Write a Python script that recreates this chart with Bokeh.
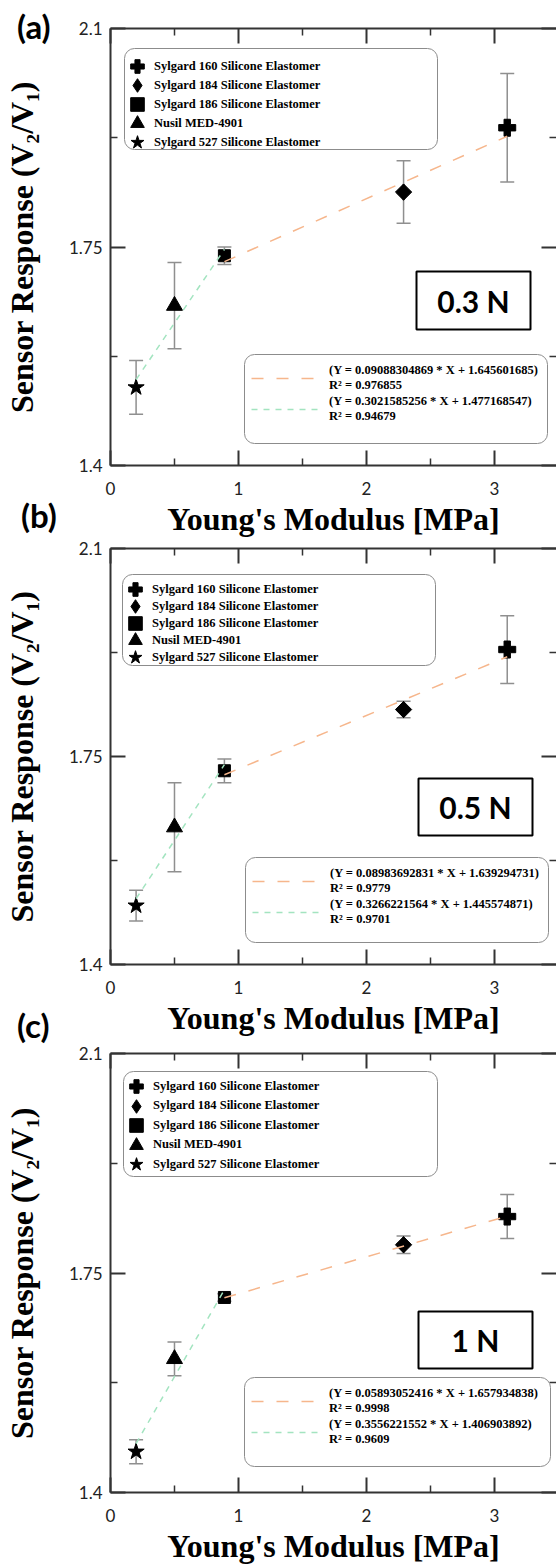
from math import pi
from bokeh.plotting import figure
from bokeh.models import (ColumnDataSource, Whisker, TeeHead, Legend, LegendItem, LinearAxis,
                          FixedTicker, BoxAnnotation, Label, Range1d, NumeralTickFormatter,
                          CustomJSTickFormatter, Div)
from bokeh.layouts import column
from bokeh.embed import file_html
from bokeh.resources import INLINE

# ---------------- data ----------------
materials = ["Sylgard 160 Silicone Elastomer", "Sylgard 184 Silicone Elastomer",
             "Sylgard 186 Silicone Elastomer", "Nusil MED-4901",
             "Sylgard 527 Silicone Elastomer"]
modulus = [3.1, 2.29, 0.89, 0.5, 0.2]          # MPa

resp_03 = [1.941, 1.838, 1.736, 1.656, 1.525]
err_03 = [0.087, 0.050, 0.014, 0.069, 0.043]
resp_05 = [1.930, 1.829, 1.726, 1.631, 1.499]
err_05 = [0.057, 0.014, 0.020, 0.075, 0.026]
resp_1 = [1.840, 1.795, 1.711, 1.613, 1.465]
err_1 = [0.035, 0.014, 0.006, 0.027, 0.019]

fit_hi_03 = [0.09088304869, 1.645601685, "0.976855"]
fit_lo_03 = [0.3021585256, 1.477168547, "0.94679"]
fit_hi_05 = [0.08983692831, 1.639294731, "0.9779"]
fit_lo_05 = [0.3266221564, 1.445574871, "0.9701"]
fit_hi_1 = [0.05893052416, 1.657934838, "0.9998"]
fit_lo_1 = [0.3556221552, 1.406903892, "0.9609"]

forces = ["0.3 N", "0.5 N", "1 N"]
panel_tags = ["(a)", "(b)", "(c)"]
x_ticks = [0, 1, 2, 3]
x_minor = [0.5, 1.5, 2.5]
y_ticks = [1.4, 1.75, 2.1]
y_minor = [1.575, 1.925]

panels_resp = [resp_03, resp_05, resp_1]
panels_err = [err_03, err_05, err_1]
panels_hi = [fit_hi_03, fit_hi_05, fit_hi_1]
panels_lo = [fit_lo_03, fit_lo_05, fit_lo_1]

# ---------------- style / layout ----------------
SERIF = "Liberation Serif"
SANS = "Lato"
AX = "#333333"
ORANGE = "#f6b68c"
GREEN = "#a3e4c0"
BOXLINE = "#8c8c8c"
markers = ["plus", "diamond", "square", "triangle", "star"]
m_size = [17, 16, 12, 16, 17]

# screen boxes: (left, right, bottom, top) relative to frame bottom-left
layouts = [
    dict(h=539, top=28, bottom=73, left=110,
         leg=(14, 327, 316, 417), leg_first=18, leg_pitch=19,
         fit=(134, 437, 22, 111),
         nbox=(306, 420, 136, 194)),
    dict(h=502, top=9, bottom=77, left=107,
         leg=(12, 325, 299, 390), leg_first=15, leg_pitch=17,
         fit=(135, 438, 22, 107),
         nbox=(308, 422, 129, 186)),
    dict(h=525, top=12, bottom=73, left=107,
         leg=(13, 327, 316, 421), leg_first=15, leg_pitch=19.5,
         fit=(134, 440, 26, 115),
         nbox=(308, 422, 124, 181)),
]
# page positions of the panel tags (left, top)
tag_pos = [(17, 6), (21, 495), (17, 1005)]


def screen_box(l, r, b, t, **kw):
    return BoxAnnotation(left=l, right=r, bottom=b, top=t,
                         left_units="screen", right_units="screen",
                         bottom_units="screen", top_units="screen", **kw)


def make_panel(i):
    L = layouts[i]
    resp, err, hi, lo = panels_resp[i], panels_err[i], panels_hi[i], panels_lo[i]
    p = figure(width=556, height=L["h"], x_range=Range1d(0, 3.485), y_range=Range1d(1.4, 2.1),
               output_backend="svg", toolbar_location=None,
               min_border_left=L["left"], min_border_right=0,
               min_border_top=L["top"], min_border_bottom=L["bottom"],
               x_axis_label="Young's Modulus [MPa]",
               y_axis_label="Sensor Response (V\u2082/V\u2081)")
    p.outline_line_color = None
    p.grid.visible = False

    top_ax = LinearAxis()
    right_ax = LinearAxis()
    p.add_layout(top_ax, "above")
    p.add_layout(right_ax, "right")

    for ax in [p.below[0], top_ax]:
        ax.ticker = FixedTicker(ticks=x_ticks, minor_ticks=x_minor)
    for ax in [p.left[0], right_ax]:
        ax.ticker = FixedTicker(ticks=y_ticks, minor_ticks=y_minor)
    p.below[0].formatter = NumeralTickFormatter(format="0")
    p.left[0].formatter = NumeralTickFormatter(format="0.[00]")

    for ax in [p.below[0], p.left[0], top_ax, right_ax]:
        ax.axis_line_color = AX
        ax.axis_line_width = 2
        ax.major_tick_line_color = AX
        ax.major_tick_line_width = 2
        ax.minor_tick_line_color = AX
        ax.minor_tick_line_width = 1.5
        ax.major_tick_in = 15
        ax.major_tick_out = 0
        ax.minor_tick_in = 7
        ax.minor_tick_out = 0
        ax.major_label_text_font = SANS
        ax.major_label_text_font_size = "17px"
        ax.major_label_text_color = "#222222"
    for ax in [top_ax, right_ax]:
        ax.formatter = CustomJSTickFormatter(code="return ''")
        ax.major_label_text_font_size = "1px"
        ax.major_label_standoff = 0
    right_ax.axis_line_color = None

    p.below[0].major_label_standoff = 16
    p.left[0].major_label_standoff = 8
    for ax in [p.below[0], p.left[0]]:
        ax.axis_label_text_font = SERIF
        ax.axis_label_text_font_style = "bold"
        ax.axis_label_text_font_size = "32px"
        ax.axis_label_text_color = "black"
    p.below[0].axis_label_standoff = 3
    p.left[0].axis_label_standoff = 26

    # error bars
    src = ColumnDataSource(dict(x=modulus,
                                u=[v + e for v, e in zip(resp, err)],
                                l=[v - e for v, e in zip(resp, err)]))
    wh = Whisker(source=src, base="x", upper="u", lower="l", line_color="#8f8f8f", line_width=1.5,
                 upper_head=TeeHead(size=14, line_color="#8f8f8f", line_width=1.5),
                 lower_head=TeeHead(size=14, line_color="#8f8f8f", line_width=1.5),
                 level="underlay")
    p.add_layout(wh)

    # markers
    scat = []
    for k in range(5):
        r = p.scatter(x=[modulus[k]], y=[resp[k]], marker=markers[k], size=m_size[k],
                      fill_color="black", line_color="black")
        scat.append(r)
    # the diamond of Sylgard 184 is drawn as a square turned 45 degrees on top
    p.scatter(x=[modulus[1]], y=[resp[1]], marker="square", angle=pi / 4, size=11.5,
              fill_color="black", line_color="black")

    # fit lines
    xs_hi = [modulus[2], modulus[0]]
    xs_lo = [modulus[4], modulus[2]]
    r_hi = p.line(xs_hi, [hi[0] * x + hi[1] for x in xs_hi], line_color=ORANGE,
                  line_width=1.5, line_dash="12 13")
    r_lo = p.line(xs_lo, [lo[0] * x + lo[1] for x in xs_lo], line_color=GREEN,
                  line_width=1.5, line_dash="6 6")

    # top legend: rounded box + one transparent legend per row
    l_, r_, b_, t_ = L["leg"]
    p.add_layout(screen_box(l_, r_, b_, t_, fill_color="white", fill_alpha=1,
                            line_color=BOXLINE, line_alpha=1, line_width=1, border_radius=10))
    g = 34
    for k in range(5):
        cy = t_ - L["leg_first"] - k * L["leg_pitch"]
        leg = Legend(items=[LegendItem(label=materials[k], renderers=[scat[k]])],
                     location=(l_ + 13 - g / 2, cy - g / 2),
                     padding=0, spacing=0, margin=0,
                     glyph_width=g, glyph_height=g, label_height=g, label_standoff=0,
                     label_width=150,
                     label_text_font=SERIF, label_text_font_style="bold",
                     label_text_font_size="12.5px", label_text_color="black",
                     border_line_color=None, background_fill_alpha=0)
        p.add_layout(leg)

    # fit legend
    l_, r_, b_, t_ = L["fit"]
    p.add_layout(screen_box(l_, r_, b_, t_, fill_color="white", fill_alpha=1,
                            line_color=BOXLINE, line_alpha=1, line_width=1, border_radius=10))
    row2 = 30
    sp2 = 1
    fit_h = 2 * row2 + sp2
    lab_hi = "(Y = %s * X + %s)\nR\u00b2 = %s" % (repr(hi[0]), repr(hi[1]), hi[2])
    lab_lo = "(Y = %s * X + %s)\nR\u00b2 = %s" % (repr(lo[0]), repr(lo[1]), lo[2])
    leg2 = Legend(items=[LegendItem(label=lab_hi, renderers=[r_hi]),
                         LegendItem(label=lab_lo, renderers=[r_lo])],
                  location=(l_ + 7, t_ - 9 - fit_h), padding=0, spacing=sp2, margin=0,
                  glyph_width=72, glyph_height=row2, label_height=row2, label_standoff=6,
                  label_width=200,
                  label_text_font=SERIF, label_text_font_style="bold",
                  label_text_font_size="12.5px", label_text_color="black",
                  label_text_line_height=1.05,
                  border_line_color=None, background_fill_alpha=0)
    p.add_layout(leg2)

    # force box
    l_, r_, b_, t_ = L["nbox"]
    p.add_layout(screen_box(l_, r_, b_, t_, fill_color="white", fill_alpha=1,
                            line_color="black", line_alpha=1, line_width=2))
    p.add_layout(Label(x=(l_ + r_) / 2, y=(b_ + t_) / 2, x_units="screen", y_units="screen",
                       text=forces[i], text_align="center", text_baseline="middle",
                       text_font=SANS, text_font_style="bold", text_font_size="30px",
                       text_color="black"))
    return p


figs = [make_panel(i) for i in range(3)]

tags = []
for t, (lx, ty) in zip(panel_tags, tag_pos):
    tags.append(Div(text=t, width=60, height=40, margin=0,
                    styles={"position": "absolute", "left": "%dpx" % lx, "top": "%dpx" % ty,
                            "font-family": SANS, "font-weight": "bold", "font-size": "33px",
                            "line-height": "40px", "color": "black", "z-index": "10"}))

lay = column(*figs, *tags, spacing=0)
open("out.html", "w").write(file_html(lay, INLINE))
